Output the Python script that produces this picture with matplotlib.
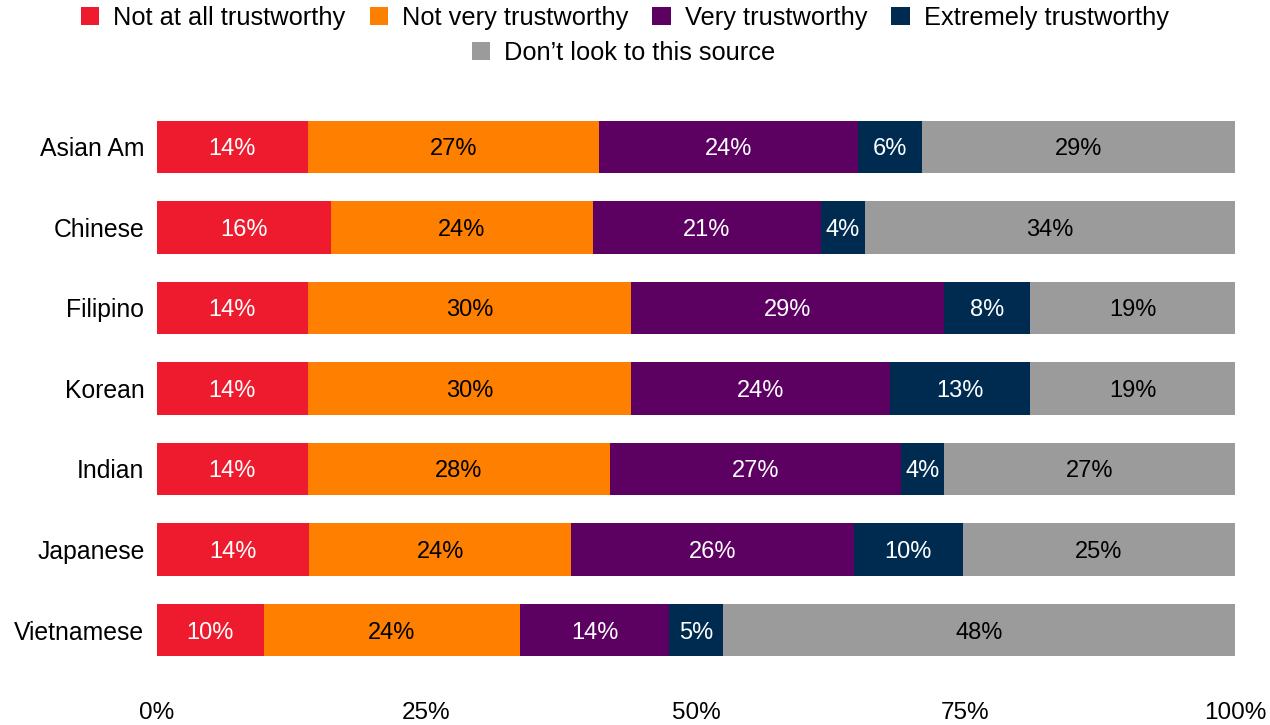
import matplotlib.pyplot as plt
import numpy as np
from matplotlib.patches import Patch

plt.rcParams["font.family"] = ["Liberation Sans", "DejaVu Sans"]

groups = ["Asian Am", "Chinese", "Filipino", "Korean", "Indian", "Japanese", "Vietnamese"]
categories = ["Not at all trustworthy", "Not very trustworthy", "Very trustworthy",
              "Extremely trustworthy", "Don\u2019t look to this source"]

not_at_all = [14, 16, 14, 14, 14, 14, 10]
not_very = [27, 24, 30, 30, 28, 24, 24]
very = [24, 21, 29, 24, 27, 26, 14]
extremely = [6, 4, 8, 13, 4, 10, 5]
dont_look = [29, 34, 19, 19, 27, 25, 48]

colors = ["#EE1B2E", "#FF8000", "#5C0062", "#002B50", "#9B9B9B"]
text_colors = ["white", "black", "white", "white", "black"]

series = np.array([not_at_all, not_very, very, extremely, dont_look], dtype=float)
# 100% stacked: each row scaled to its own total
shares = series / series.sum(axis=0) * 100

fig = plt.figure(figsize=(12.7, 7.25), dpi=100)
ax = fig.add_axes([0.1236, 0.0755, 0.8488, 0.7773])

y = np.arange(len(groups))
left = np.zeros(len(groups))
for i, cat in enumerate(categories):
    ax.barh(y, shares[i], left=left, height=0.65, color=colors[i], label=cat)
    for j in range(len(groups)):
        ax.text(left[j] + shares[i][j] / 2, y[j], f"{int(series[i][j])}%",
                ha="center", va="center_baseline", fontsize=17, color=text_colors[i])
    left += shares[i]

ax.set_xlim(0, 100)
ax.set_ylim(len(groups) - 0.5, -0.5)
ax.set_yticks(y)
ax.set_yticklabels(groups, fontsize=17.8)
ax.set_xticks([0, 25, 50, 75, 100])
ax.set_xticklabels(["0%", "25%", "50%", "75%", "100%"], fontsize=17.5)
ax.tick_params(axis="x", length=0, pad=23)
ax.tick_params(axis="y", length=0, pad=9)
for s in ax.spines.values():
    s.set_visible(False)

handles = [Patch(facecolor=c, edgecolor="none") for c in colors]
leg_kw = dict(frameon=False, fontsize=18.3, handlelength=0.72, handleheight=0.72,
              handletextpad=0.55, columnspacing=0.95, borderpad=0, borderaxespad=0)
fig.legend(handles[:4], categories[:4], ncol=4, loc="center",
           bbox_to_anchor=(0.492, 1 - 18 / 725), **leg_kw)
fig.legend(handles[4:], categories[4:], ncol=1, loc="center",
           bbox_to_anchor=(0.491, 1 - 53 / 725), **leg_kw)

fig.savefig("out.png", dpi=100)
